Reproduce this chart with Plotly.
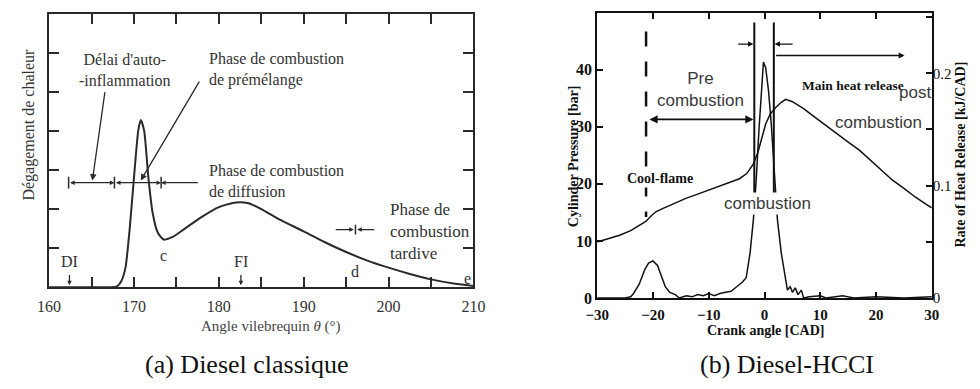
import plotly.graph_objects as go

# ---------------- data: (a) Diesel classique ----------------
theta_a = [160, 167, 168, 168.5, 169, 169.5, 170, 170.5, 170.8, 171.2, 171.7, 172.2, 172.8, 173.5,
           174.5, 176, 178, 180, 182, 183.5, 185, 187, 190, 192.5, 195, 197.5, 200, 202.5, 205, 207.5, 210]
heat_a = [0, 0, 0.02, 0.15, 0.5, 1.5, 2.8, 4.0, 4.28, 4.0, 2.8, 1.9, 1.4, 1.22,
          1.28, 1.5, 1.8, 2.05, 2.17, 2.15, 2.0, 1.75, 1.43, 1.15, 0.9, 0.68, 0.5, 0.34, 0.2, 0.1, 0.03]
xticks_a = [160, 170, 180, 190, 200, 210]

# ---------------- data: (b) Diesel-HCCI ----------------
cad_p = [-30, -28, -26, -24, -22.5, -21.3, -20.3, -19.5, -18, -16, -14, -12, -10, -8, -6, -4.5, -3.2,
         -2, -1.2, -0.5, 0.2, 1, 2, 3, 3.8, 5, 7, 9, 11, 13, 15, 17, 19, 21, 23, 25, 27, 29, 30]
pressure = [9.8, 10.4, 11.0, 11.8, 12.7, 13.4, 14.4, 15.1, 15.8, 16.7, 17.5, 18.2, 18.9, 19.6, 20.3, 20.9, 21.8,
            23.5, 25.5, 28.0, 30.5, 32.2, 33.4, 34.3, 34.8, 34.4, 33.2, 31.7, 30.2, 28.8, 27.3, 25.9, 24.1, 22.3,
            20.6, 19.2, 17.7, 16.4, 15.8]
cad_q = [-30, -25, -24, -23.5, -22.5, -21.5, -20.8, -20, -19.2, -18.5, -17.8, -17, -16, -15.3, -14, -13, -12,
         -11, -10, -9, -8, -7, -6, -5, -4, -3.3, -2.6, -2, -1.5, -1, -0.5, -0.2, 0.2, 0.7, 1.2, 1.8, 2.3, 3,
         3.6, 4.1, 4.6, 5, 5.5, 6, 6.6, 7, 8, 10, 11, 14, 16, 20, 25, 30]
hrr = [0, 0, 0.001, 0.004, 0.012, 0.025, 0.031, 0.033, 0.029, 0.019, 0.01, 0.005, 0.003, 0.0, 0.002, 0.001,
       0.003, 0.002, 0.004, 0.002, 0.004, 0.005, 0.006, 0.01, 0.014, 0.018, 0.04, 0.07, 0.105, 0.15, 0.19, 0.21,
       0.205, 0.185, 0.155, 0.11, 0.07, 0.04, 0.02, 0.007, 0.01, 0.005, 0.009, 0.003, 0.007, 0.0, 0.001, 0.002,
       0.0, 0.002, 0.0, 0.001, 0.0, 0.001]
xticks_b = [-30, -20, -10, 0, 10, 20, 30]
xticktext_b = ["\u221230", "\u221220", "\u221210", "0", "10", "20", "30"]
pticks = [0, 10, 20, 30, 40]
qticks = [0, 0.05, 0.1, 0.15, 0.2, 0.25]
qticktext = ["0", "", "0.1", "", "0.2", ""]

SERIF = "Liberation Serif"
SANS = "Liberation Sans"
INK = "#2a2a2a"

fig = go.Figure()
fig.add_trace(go.Scatter(x=theta_a, y=heat_a, mode="lines",
                         line=dict(color=INK, width=2, shape="spline", smoothing=0.6),
                         xaxis="x", yaxis="y", showlegend=False, hoverinfo="skip"))
fig.add_trace(go.Scatter(x=cad_p, y=pressure, mode="lines", line=dict(color="#111", width=1.5),
                         xaxis="x2", yaxis="y2", showlegend=False, hoverinfo="skip"))
fig.add_trace(go.Scatter(x=cad_q, y=hrr, mode="lines", line=dict(color="#111", width=1.5),
                         xaxis="x2", yaxis="y3", showlegend=False, hoverinfo="skip"))

tf_a = dict(family=SERIF, size=16, color="#333")

fig.update_layout(
    width=980, height=389, margin=dict(l=0, r=0, t=0, b=0),
    paper_bgcolor="white", plot_bgcolor="white",
    xaxis=dict(domain=[0.0388, 0.4827], range=[160, 210], anchor="y", showline=True, linewidth=2, linecolor=INK,
               mirror="ticks", ticks="inside", ticklen=10, tickwidth=1.5, tickcolor=INK, tickvals=xticks_a,
               tickfont=tf_a, ticklabelstandoff=4, showgrid=False, zeroline=False,
               minor=dict(dtick=5, ticks="inside", ticklen=10, tickwidth=1.5, tickcolor=INK, showgrid=False)),
    yaxis=dict(domain=[0.2442, 0.964], range=[0, 7], anchor="x", showline=True, linewidth=2, linecolor=INK,
               mirror="ticks", ticks="inside", ticklen=10, tickwidth=1.5, tickcolor=INK, dtick=1,
               showticklabels=False, showgrid=False, zeroline=False),
    xaxis2=dict(domain=[0.6122, 0.9622], range=[-30, 30], anchor="y2", showline=True, linewidth=2, linecolor="#111",
                mirror="ticks", ticks="inside", ticklen=6, tickwidth=1.5, tickcolor="#111", tickvals=xticks_b,
                ticktext=xticktext_b, ticklabelstandoff=2,
                tickfont=dict(family=SERIF, size=15, color="#111", weight="bold"), showgrid=False, zeroline=False),
    yaxis2=dict(domain=[0.2159, 0.9666], range=[0, 50], anchor="x2", showline=True, linewidth=2, linecolor="#111",
                mirror=True, ticks="inside", ticklen=6, tickwidth=1.5, tickcolor="#111", tickvals=pticks,
                tickfont=dict(family=SERIF, size=16, color="#111", weight="bold"), showgrid=False, zeroline=False),
    yaxis3=dict(range=[0, 0.254], overlaying="y2", side="right", anchor="x2", showline=False,
                ticks="inside", ticklen=6, tickwidth=1.5, tickcolor="#111", tickvals=qticks, ticktext=qticktext,
                tickfont=dict(family=SERIF, size=15, color="#111"), showgrid=False, zeroline=False),
)

ann = []
shapes = []


def px_to_paper(px, py):
    return px / 980, 1 - py / 389


def txt(x, y, s, xref="x", yref="y", size=16, family=SERIF, color="#333", align="center", xanchor="center",
        textangle=0, weight="normal", bg=None):
    d = dict(x=x, y=y, xref=xref, yref=yref, text=s, showarrow=False, align=align, xanchor=xanchor,
             yanchor="middle", textangle=textangle,
             font=dict(family=family, size=size, color=color, weight=weight))
    if bg:
        d["bgcolor"] = bg
    ann.append(d)


def arrow(x0, y0, x1, y1, xref="x", yref="y", side="end", color=INK, width=1.3, size=1.0, head=2):
    ann.append(dict(x=x1, y=y1, ax=x0, ay=y0, xref=xref, yref=yref, axref=xref, ayref=yref, text="",
                    showarrow=True, arrowhead=head, arrowside=side, arrowsize=size, arrowwidth=width,
                    arrowcolor=color, startarrowhead=head, startarrowsize=size))


def seg(x0, y0, x1, y1, xref="x", yref="y", color=INK, width=1.5, dash="solid"):
    shapes.append(dict(type="line", x0=x0, y0=y0, x1=x1, y1=y1, xref=xref, yref=yref,
                       line=dict(color=color, width=width, dash=dash)))


# ---------- panel (a) annotations ----------
txt(168.9, 5.57, "Délai d'auto-<br>-inflammation")
txt(178.6, 5.57, "Phase de combustion<br>de prémélange", align="left", xanchor="left")
txt(178.6, 2.72, "Phase de combustion<br>de diffusion", align="left", xanchor="left")
txt(199.9, 1.42, "Phase de<br>combustion<br>tardive", align="left", xanchor="left", size=17)
arrow(166.6, 5.03, 165.1, 2.73)
arrow(177.8, 5.3, 170.8, 2.73)
dim_y = 2.675
arrow(162.3, dim_y, 167.7, dim_y, side="end+start", size=0.7)
arrow(167.7, dim_y, 173.2, dim_y, side="end+start", size=0.7)
arrow(177.7, dim_y, 173.2, dim_y, size=0.7)
for tx in [162.3, 167.7, 173.2]:
    seg(tx, dim_y - 0.15, tx, dim_y + 0.15)
arrow(193.6, 1.475, 195.9, 1.475, size=0.7)
arrow(198.5, 1.475, 196.3, 1.475, size=0.7)
seg(196.1, 1.35, 196.1, 1.6)
txt(162.4, 0.65, "DI")
txt(182.6, 0.65, "FI")
arrow(162.4, 0.35, 162.4, 0.05, size=0.7)
arrow(182.6, 0.35, 182.6, 0.05, size=0.7)
txt(173.45, 0.8, "c")
txt(196.1, 0.4, "d")
txt(209.3, 0.22, "e")
txt(162.5, -0.62, "a")
txt(167.7, -0.57, "b")
fx, fy = px_to_paper(17, 128)
txt(fx, fy, "Dégagement de chaleur", "paper", "paper", textangle=-90)
fx, fy = px_to_paper(265, 334)
txt(fx, fy, "Angle vilebrequin <i>θ</i> (°)", "paper", "paper", size=15, color="#444")

# ---------- panel (b) annotations ----------
xr, yr = "x2", "y2"
seg(-21.25, 46.7, -21.25, 14.2, xr, yr, color="#111", width=2.5, dash="longdash")
seg(-1.84, 48.3, -1.84, 18.0, xr, yr, color="#111", width=2)
seg(1.66, 48.3, 1.66, 18.0, xr, yr, color="#111", width=2)
arrow(-20.9, 31.3, -2.0, 31.3, xr, yr, side="end+start", color="#111", width=1.8, size=0.9)
arrow(-5.0, 44.5, -2.0, 44.5, xr, yr, color="#111", width=1.2, size=0.9)
arrow(5.3, 44.5, 1.8, 44.5, xr, yr, color="#111", width=1.2, size=0.9)
arrow(1.8, 42.5, 25.1, 42.5, xr, yr, color="#111", width=1.3, size=0.9)
txt(-11.46, 36.6, "Pre<br>combustion", xr, yr, size=17, family=SANS, color="#3a3a3a")
txt(15.8, 37.2, "Main heat release", xr, yr, size=13.5, color="#111", weight="bold")
txt(27.0, 36.0, "post", xr, yr, size=17, family=SANS, color="#3a3a3a")
txt(20.4, 30.8, "combustion", xr, yr, size=17, family=SANS, color="#3a3a3a")
txt(-18.8, 20.9, "Cool-flame", xr, yr, size=14, color="#111", weight="bold", bg="white")
txt(0.6, 16.6, "combustion", xr, yr, size=17, family=SANS, color="#3a3a3a", bg="white")

fx, fy = px_to_paper(575, 160)
txt(fx, fy, "Cylinder Pressure [bar]", "paper", "paper", size=14, color="#111", textangle=-90, weight="bold")
fx, fy = px_to_paper(972, 158)
txt(fx, fy, "Rate of Heat Release [kJ/CAD]", "paper", "paper", size=14, color="#111", textangle=-90,
    weight="bold")
fx, fy = px_to_paper(772, 338)
txt(fx, fy, "Crank angle [CAD]", "paper", "paper", size=14, color="#111", weight="bold")

# captions
fx, fy = px_to_paper(241, 373)
txt(fx, fy, "(a) Diesel classique", "paper", "paper", size=26, color="#111")
fx, fy = px_to_paper(794, 373)
txt(fx, fy, "(b) Diesel-HCCI", "paper", "paper", size=26, color="#111")

fig.update_layout(annotations=ann, shapes=shapes)
fig.write_html("out.html")
